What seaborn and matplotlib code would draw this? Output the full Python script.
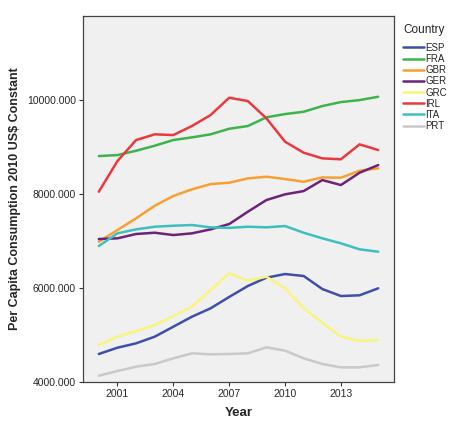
import matplotlib
matplotlib.use("Agg")
import matplotlib.pyplot as plt
import seaborn as sns
import pandas as pd
from matplotlib.ticker import FormatStrFormatter

years = list(range(2000, 2016))

esp = [4596, 4730, 4823, 4964, 5177, 5390, 5568, 5810, 6043, 6220, 6298, 6256, 5979, 5830, 5845, 5994]
fra = [8809, 8830, 8922, 9029, 9150, 9207, 9271, 9390, 9448, 9633, 9703, 9752, 9873, 9958, 10000, 10071]
gbr = [6986, 7234, 7483, 7750, 7960, 8100, 8213, 8241, 8334, 8369, 8320, 8262, 8355, 8348, 8497, 8547]
ger = [7043, 7058, 7150, 7177, 7128, 7164, 7249, 7362, 7624, 7873, 7994, 8064, 8298, 8192, 8454, 8617]
grc = [4787, 4964, 5085, 5213, 5404, 5603, 5958, 6313, 6156, 6241, 5994, 5568, 5262, 4964, 4873, 4894]
irl = [8050, 8703, 9150, 9271, 9256, 9448, 9682, 10050, 9980, 9612, 9114, 8880, 8760, 8740, 9058, 8937]
ita = [6894, 7164, 7249, 7305, 7326, 7341, 7292, 7280, 7305, 7292, 7320, 7177, 7058, 6951, 6824, 6773]
prt = [4134, 4234, 4326, 4383, 4504, 4610, 4589, 4596, 4610, 4738, 4667, 4504, 4383, 4312, 4312, 4362]

countries = ["ESP", "FRA", "GBR", "GER", "GRC", "IRL", "ITA", "PRT"]
series = [esp, fra, gbr, ger, grc, irl, ita, prt]
colors = ["#3f4fa8", "#3cb44b", "#f7a030", "#6c2378", "#f8f57c", "#e8393f", "#3ebfbf", "#c9c9c9"]

df = pd.DataFrame({
    "Year": years * len(countries),
    "Value": [v for s in series for v in s],
    "Country": [c for c in countries for _ in years],
})

sns.set_style("ticks")
plt.rcParams['font.family'] = ['Liberation Sans', 'DejaVu Sans']

fig = plt.figure(figsize=(4.57, 4.33), dpi=100)
ax = fig.add_axes([83 / 457, 1 - 382 / 433, (394 - 83) / 457, (382 - 16) / 433])
ax.set_facecolor("#f0f0f0")

sns.lineplot(data=df, x="Year", y="Value", hue="Country", hue_order=countries,
             palette=dict(zip(countries, colors)), linewidth=1.8, ax=ax, legend=True)

ax.set_xlim(1999.15, 2015.85)
ax.set_ylim(4000, 11790)
ax.set_xticks([2001, 2004, 2007, 2010, 2013])
ax.set_yticks([4000, 6000, 8000, 10000])
ax.yaxis.set_major_formatter(FormatStrFormatter("%.3f"))
ax.tick_params(labelsize=7.5, length=3, width=0.8, color="#333333", pad=2)
for sp in ax.spines.values():
    sp.set_color("#444444")
    sp.set_linewidth(0.9)

ax.set_xlabel("Year", fontsize=9.5, fontweight="bold", labelpad=6)
ax.set_ylabel("Per Capita Consumption 2010 US$ Constant", fontsize=9, fontweight="bold", labelpad=0)
ax.yaxis.set_label_coords(-0.2, 0.5)

handles, labels = ax.get_legend_handles_labels()
ax.get_legend().remove()
leg = fig.legend(handles, labels, title="Country", loc="upper left",
                 bbox_to_anchor=(399 / 457, 1 - 20 / 433), frameon=False,
                 fontsize=7, title_fontsize=8.5, handlelength=2.2, handletextpad=0.1,
                 labelspacing=0.12, borderaxespad=0)
leg._legend_box.align = "left"
leg._legend_box.sep = 5

fig.savefig("out.png", dpi=100)
